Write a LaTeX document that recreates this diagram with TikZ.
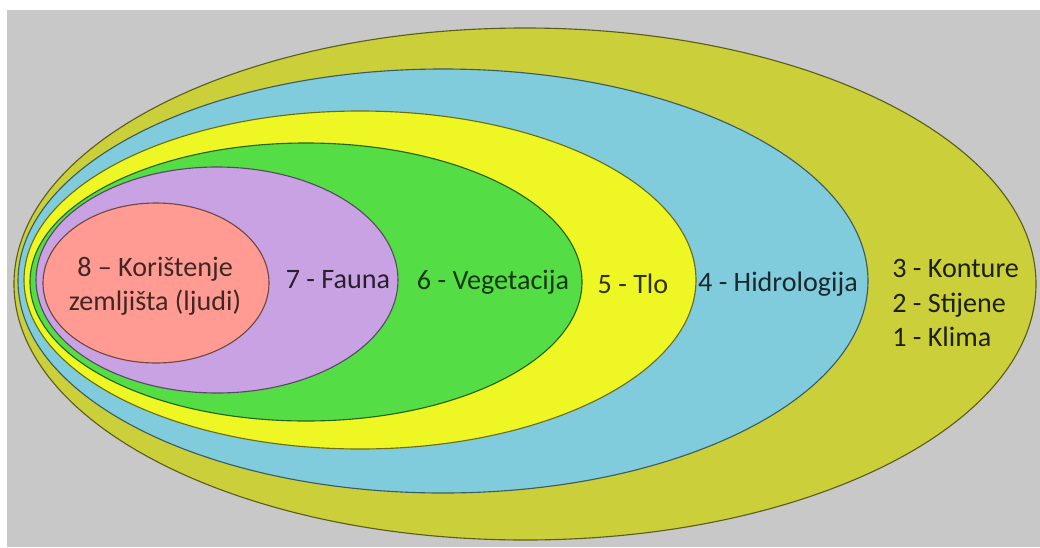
\documentclass[tikz,border=0pt]{standalone}
\usepackage{fontspec}
\setmainfont{Carlito}
\definecolor{bggray}{HTML}{C8C8C8}
\definecolor{landolive}{HTML}{CBD03A}
\definecolor{hydroblue}{HTML}{80CCDC}
\definecolor{soilyellow}{HTML}{EEF724}
\definecolor{vegegreen}{HTML}{55DD45}
\definecolor{faunapurple}{HTML}{C8A2E2}
\definecolor{humanpink}{HTML}{FF9B92}

\begin{document}
\begin{tikzpicture}[x=0.025cm,y=-0.025cm,
  lbl/.style={font=\fontsize{20}{24.2}\selectfont,inner sep=0pt}]
\useasboundingbox (0,0) rectangle (1040,547);
\fill[bggray] (7,10) rectangle (1040,547);

% nested layers, outermost first
\foreach \cx/\cy/\rx/\ry/\col in {525/284/511/256/landolive,
  443/281/425/212/hydroblue, 360/280/336/169/soilyellow,
  306/282/276/139/vegegreen, 217/280/181/113/faunapurple,
  156/283/113/80/humanpink}{%
\draw[fill=\col,draw=\col!45!black,line width=0.8pt] (\cx,\cy) ellipse ({\rx} and {\ry});
}

\node[lbl,align=center,text=humanpink!25!black] (human) at (155,286) {8 -- Korištenje\\zemljišta (ljudi)};
\node[lbl,text=faunapurple!20!black] (fauna) at (338,280) {7 - Fauna};
\node[lbl,text=vegegreen!25!black] (vege) at (493,282) {6 - Vegetacija};
\node[lbl,text=soilyellow!20!black] (soil) at (633,284) {5 - Tlo};
\node[lbl,text=hydroblue!20!black] (hydro) at (778,284) {4 - Hidrologija};
\node[lbl,align=left,anchor=west,text=landolive!15!black] (land) at (892,303) {3 - Konture\\2 - Stijene\\1 - Klima};

\end{tikzpicture}
\end{document}
